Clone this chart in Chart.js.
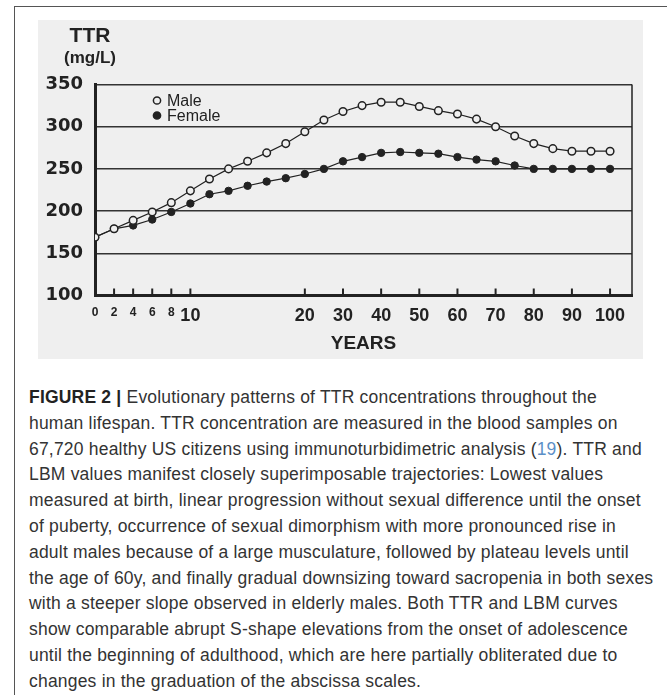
<!DOCTYPE html>
<html>
<head>
<meta charset="utf-8">
<script src="https://cdn.jsdelivr.net/npm/chart.js@4.4.1/dist/chart.umd.min.js"></script>
<style>
  body { margin: 0; background: #fff; width: 667px; height: 695px; overflow: hidden; position: relative; }
  .frame { position: absolute; left: 14px; top: 6px; width: 660px; height: 700px; border-left: 1px solid #555; border-top: 1px solid #555; }
  #chart { position: absolute; left: 38px; top: 20px; background: #efefef; }
  #caption { position: absolute; left: 29px; top: 385px; font-family: 'Liberation Sans', Arial, sans-serif; font-size: 17.5px; letter-spacing: 0.2px; line-height: 25.8px; color: #333; white-space: nowrap; }
  #caption b { color: #222; }
  #caption .ref { color: #5b8fc7; }
</style>
</head>
<body>
<div class="frame"></div>
<canvas id="chart" width="605" height="339"></canvas>
<div id="caption">
  <div><b>FIGURE 2 |</b> Evolutionary patterns of TTR concentrations throughout the</div>
  <div>human lifespan. TTR concentration are measured in the blood samples on</div>
  <div>67,720 healthy US citizens using immunoturbidimetric analysis (<span class="ref">19</span>). TTR and</div>
  <div>LBM values manifest closely superimposable trajectories: Lowest values</div>
  <div>measured at birth, linear progression without sexual difference until the onset</div>
  <div>of puberty, occurrence of sexual dimorphism with more pronounced rise in</div>
  <div>adult males because of a large musculature, followed by plateau levels until</div>
  <div>the age of 60y, and finally gradual downsizing toward sacropenia in both sexes</div>
  <div>with a steeper slope observed in elderly males. Both TTR and LBM curves</div>
  <div>show comparable abrupt S-shape elevations from the onset of adolescence</div>
  <div>until the beginning of adulthood, which are here partially obliterated due to</div>
  <div>changes in the graduation of the abscissa scales.</div>
</div>
<script>
'use strict';

// x positions are evenly spaced points; only some carry an age label
const ageLabels = ['0', '2', '4', '6', '8', '10', '', '', '', '', '', '20', '', '30', '', '40', '', '50', '', '60', '', '70', '', '80', '', '90', '', '100'];
const maleTTR = [169, 179, 189, 199, 210, 224, 238, 250, 259, 269, 280, 294, 308, 318, 325, 329, 329, 324, 319, 315, 309, 300, 289, 280, 274, 271, 271, 271];
const femaleTTR = [169, 179, 183, 190, 199, 209, 220, 224, 230, 235, 239, 244, 250, 259, 264, 269, 270, 269, 268, 264, 261, 259, 254, 250, 250, 250, 250, 250];
const yMin = 100, yMax = 350, yStep = 50;

const ink = '#222';
const sans = "'Liberation Sans', Arial, sans-serif";
const wide = "'DejaVu Sans', Verdana, sans-serif";

const canvasElem = document.getElementById('chart');

// tick marks pointing into the plot, right side of the box, axis captions and legend
const figureBits = {
  id: 'figureBits',
  afterDraw(chart) {
    const ctx = chart.ctx;
    const area = chart.chartArea;
    const x = chart.scales.x;
    ctx.save();
    ctx.strokeStyle = ink;
    ctx.lineWidth = 1.5;
    ctx.beginPath();
    ctx.moveTo(area.right, area.top);
    ctx.lineTo(area.right, area.bottom);
    ctx.stroke();

    ctx.lineWidth = 2;
    x.ticks.forEach(t => {
      if (t.value === 0) return;
      const px = x.getPixelForValue(t.value);
      ctx.beginPath();
      ctx.moveTo(px, area.bottom);
      ctx.lineTo(px, area.bottom - 7);
      ctx.stroke();
    });

    ctx.fillStyle = ink;
    ctx.textAlign = 'center';
    ctx.textBaseline = 'middle';
    ctx.font = 'bold 21px ' + sans;
    ctx.fillText('TTR', 52, 16);
    ctx.font = 'bold 17px ' + sans;
    ctx.fillText('(mg/L)', 52, 38);

    // legend inside the plot
    ctx.textAlign = 'left';
    ctx.font = '16px ' + sans;
    chart.data.datasets.forEach((ds, i) => {
      const cy = area.top + 16 + i * 15;
      const cx = area.left + 62;
      ctx.beginPath();
      ctx.arc(cx, cy, 3.6, 0, Math.PI * 2);
      ctx.fillStyle = ds.pointBackgroundColor;
      ctx.fill();
      ctx.lineWidth = 1.5;
      ctx.strokeStyle = ink;
      ctx.stroke();
      ctx.fillStyle = ink;
      ctx.fillText(ds.label, cx + 10, cy + 1);
    });
    ctx.restore();
  }
};

function renderChart() {
  const data = {
    datasets: [
      {
        label: 'Male',
        data: maleTTR.map((v, i) => ({ x: i, y: v })),
        borderColor: ink,
        borderWidth: 1.2,
        pointRadius: 3.8,
        pointBorderWidth: 1.5,
        pointBorderColor: ink,
        pointBackgroundColor: '#efefef',
        tension: 0
      },
      {
        label: 'Female',
        data: femaleTTR.map((v, i) => ({ x: i, y: v })),
        borderColor: ink,
        borderWidth: 1.2,
        pointRadius: 3.7,
        pointBorderWidth: 1,
        pointBorderColor: ink,
        pointBackgroundColor: ink,
        tension: 0
      }
    ]
  };

  const config = {
    type: 'line',
    data: data,
    options: {
      responsive: false,
      animation: false,
      devicePixelRatio: 1,
      layout: { padding: { top: 64.5, right: 11, bottom: 0, left: 0 } },
      plugins: { legend: { display: false }, tooltip: { enabled: false } },
      scales: {
        x: {
          type: 'linear',
          min: 0,
          max: 28.15,
          afterBuildTicks: axis => {
            axis.ticks = ageLabels.map((l, i) => ({ value: i })).filter(t => ageLabels[t.value] !== '');
          },
          afterFit: scale => { scale.height = 63.5; },
          grid: { display: false, drawTicks: false },
          border: { display: true, width: 3, color: ink },
          ticks: {
            autoSkip: false,
            maxRotation: 0,
            padding: 10,
            color: ink,
            callback: v => ageLabels[v],
            font: c => (c.index < 5 ? { family: sans, size: 12, weight: 'bold' } : { family: sans, size: 18, weight: 'bold' })
          },
          title: {
            display: true,
            text: 'YEARS',
            color: ink,
            font: { family: sans, size: 19, weight: 'bold' },
            padding: { top: 0, bottom: 4 }
          }
        },
        y: {
          min: yMin,
          max: yMax,
          afterFit: scale => { scale.width = 57; },
          grid: { color: '#333', lineWidth: 1.5, drawTicks: false },
          border: { display: true, width: 3, color: ink },
          ticks: {
            stepSize: yStep,
            padding: 12,
            color: ink,
            font: { family: wide, size: 18, weight: 'bold' }
          }
        }
      }
    },
    plugins: [figureBits]
  };

  new Chart(canvasElem, config);
}

renderChart();
</script>
</body>
</html>
